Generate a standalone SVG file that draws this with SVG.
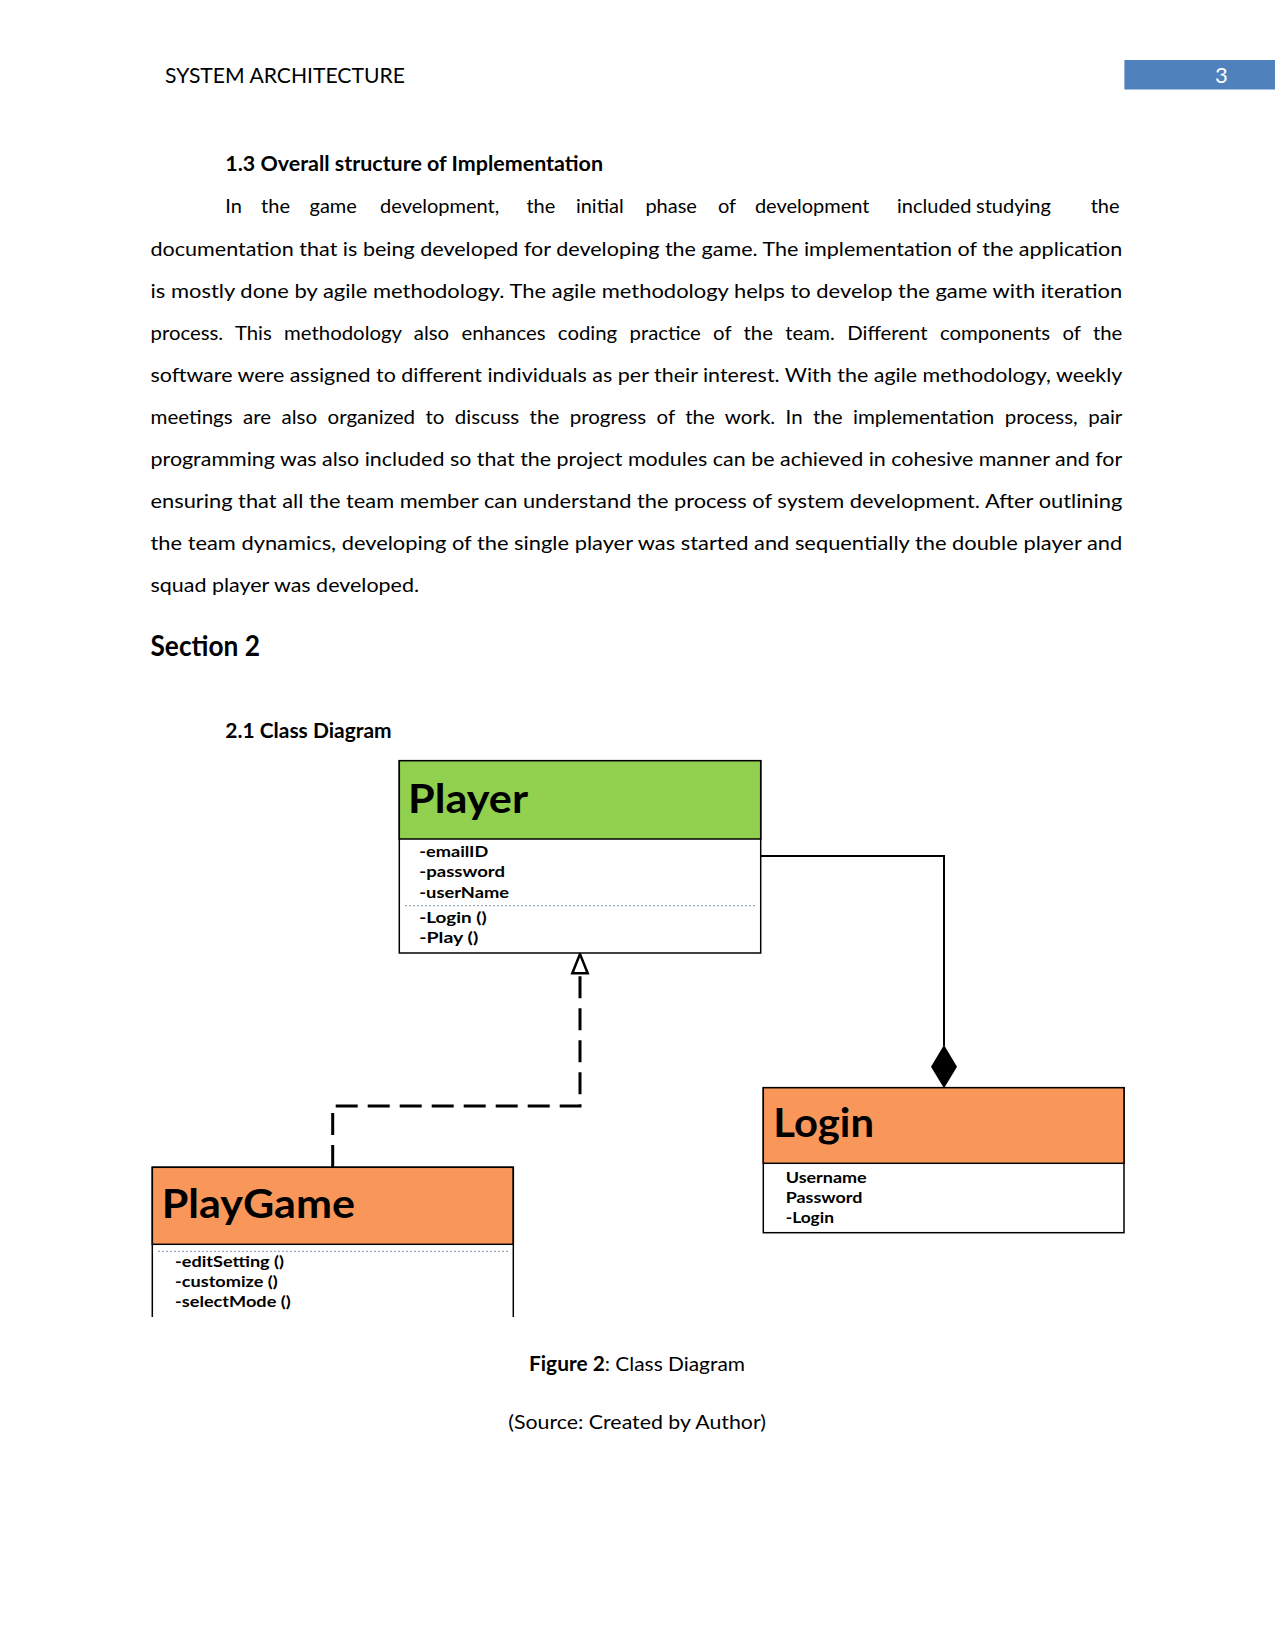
<svg xmlns="http://www.w3.org/2000/svg" width="1275" height="1651" viewBox="0 0 1275 1651">
<style>
text{font-family:Lato,"Liberation Sans",sans-serif;fill:#000}
.body{font-size:20px}
.b{font-weight:bold}
.title{font-size:40px;font-weight:bold}
.attr{font-size:16px;font-weight:bold}
.box{fill:#fff;stroke:#000;stroke-width:1.5}
.sep{stroke:#7f95a8;stroke-width:1;stroke-dasharray:2 2}
.conn{fill:none;stroke:#000}
</style>
<rect width="1275" height="1651" fill="#fff"/>
<g id="page-header">
<text x="165" y="83" font-size="22" textLength="240" lengthAdjust="spacingAndGlyphs">SYSTEM ARCHITECTURE</text>
<rect x="1124.4" y="60" width="150.6" height="29.5" fill="#4F81BD"/>
<text x="1215" y="83" font-size="22" style="fill:#fff">3</text>
</g>
<g id="body-text" class="body">
<text class="b" x="225.3" y="171" textLength="377.7" lengthAdjust="spacingAndGlyphs">1.3 Overall structure of Implementation</text>
<text y="213"><tspan x="225.3">In</tspan><tspan x="261.1">the</tspan><tspan x="309.5">game</tspan><tspan x="380.1">development,</tspan><tspan x="526.4">the</tspan><tspan x="575.9">initial</tspan><tspan x="645.4">phase</tspan><tspan x="718">of</tspan><tspan x="754.9">development</tspan><tspan x="897">included</tspan><tspan x="976">studying</tspan><tspan x="1090.7">the</tspan></text>
<text x="150.5" y="255.5" textLength="971.8" lengthAdjust="spacingAndGlyphs">documentation that is being developed for developing the game. The implementation of the application</text>
<text x="150.5" y="297.6" textLength="971.8" lengthAdjust="spacingAndGlyphs">is mostly done by agile methodology. The agile methodology helps to develop the game with iteration</text>
<text x="150.5" y="339.7" word-spacing="7" textLength="971.8" lengthAdjust="spacingAndGlyphs">process. This methodology also enhances coding practice of the team. Different components of the</text>
<text x="150.5" y="381.8" textLength="971.8" lengthAdjust="spacingAndGlyphs">software were assigned to different individuals as per their interest. With the agile methodology, weekly</text>
<text x="150.5" y="424" word-spacing="5" textLength="971.8" lengthAdjust="spacingAndGlyphs">meetings are also organized to discuss the progress of the work. In the implementation process, pair</text>
<text x="150.5" y="466" textLength="971.8" lengthAdjust="spacingAndGlyphs">programming was also included so that the project modules can be achieved in cohesive manner and for</text>
<text x="150.5" y="508" textLength="971.8" lengthAdjust="spacingAndGlyphs">ensuring that all the team member can understand the process of system development. After outlining</text>
<text x="150.5" y="550.3" textLength="971.8" lengthAdjust="spacingAndGlyphs">the team dynamics, developing of the single player was started and sequentially the double player and</text>
<text x="150.5" y="592.4" textLength="268.5" lengthAdjust="spacingAndGlyphs">squad player was developed.</text>
<text class="b" x="150.5" y="656" font-size="28" textLength="109.5" lengthAdjust="spacingAndGlyphs">Section 2</text>
<text class="b" x="225.3" y="738" textLength="166.3" lengthAdjust="spacingAndGlyphs">2.1 Class Diagram</text>
<text x="529" y="1370.5" textLength="216" lengthAdjust="spacingAndGlyphs"><tspan class="b">Figure 2</tspan>: Class Diagram</text>
<text x="508.3" y="1428.5" textLength="257.7" lengthAdjust="spacingAndGlyphs">(Source: Created by Author)</text>
</g>
<g id="connectors">
<path class="conn" d="M332.7 1167 V1106 H580 V974" stroke-width="3" stroke-dasharray="22 10"/>
<polygon points="580,954 572.3,973.3 587.7,973.3" fill="#fff" stroke="#000" stroke-width="2.5" stroke-linejoin="miter"/>
<path class="conn" d="M760.7 856 H944 V1046" stroke-width="2"/>
<polygon points="944,1045 957,1066.7 944,1088.3 931,1066.7" fill="#000"/>
</g>
<g id="node-player">
<rect class="box" x="399.3" y="760.7" width="361.4" height="192.3"/>
<rect x="399.3" y="760.7" width="361.4" height="78.3" fill="#92D050" stroke="#000" stroke-width="1.5"/>
<text class="title" x="408" y="812.7" textLength="120" lengthAdjust="spacingAndGlyphs">Player</text>
<text class="attr" x="419.3" y="857.3" textLength="69" lengthAdjust="spacingAndGlyphs">-emailID</text>
<text class="attr" x="419.3" y="877.3" textLength="85.7" lengthAdjust="spacingAndGlyphs">-password</text>
<text class="attr" x="419.3" y="897.5" textLength="89.7" lengthAdjust="spacingAndGlyphs">-userName</text>
<line class="sep" x1="405" y1="905.7" x2="755" y2="905.7"/>
<text class="attr" x="419.3" y="922.7" textLength="67.3" lengthAdjust="spacingAndGlyphs">-Login ()</text>
<text class="attr" x="419.3" y="942.7" textLength="59" lengthAdjust="spacingAndGlyphs">-Play ()</text>
</g>
<g id="node-playgame">
<rect x="152.3" y="1167.3" width="361" height="150" fill="#fff"/>
<rect x="152.3" y="1167.3" width="361" height="77" fill="#F9975B" stroke="#000" stroke-width="1.5"/>
<path d="M152.3 1317 V1167.3 H513.3 V1317" fill="none" stroke="#000" stroke-width="1.5"/>
<text class="title" x="161.7" y="1218.3" textLength="193.3" lengthAdjust="spacingAndGlyphs">PlayGame</text>
<line class="sep" x1="158" y1="1251.3" x2="508" y2="1251.3"/>
<text class="attr" x="175" y="1266.7" textLength="109" lengthAdjust="spacingAndGlyphs">-editSetting ()</text>
<text class="attr" x="175" y="1286.7" textLength="102.7" lengthAdjust="spacingAndGlyphs">-customize ()</text>
<text class="attr" x="175" y="1306.7" textLength="115.7" lengthAdjust="spacingAndGlyphs">-selectMode ()</text>
</g>
<g id="node-login">
<rect class="box" x="763.3" y="1087.7" width="360.7" height="145"/>
<rect x="763.3" y="1087.7" width="360.7" height="75.6" fill="#F9975B" stroke="#000" stroke-width="1.5"/>
<text class="title" x="773.3" y="1136.7" textLength="100.7" lengthAdjust="spacingAndGlyphs">Login</text>
<text class="attr" x="785.7" y="1183.3" textLength="81" lengthAdjust="spacingAndGlyphs">Username</text>
<text class="attr" x="785.7" y="1203.3" textLength="76.7" lengthAdjust="spacingAndGlyphs">Password</text>
<text class="attr" x="785.7" y="1223.3" textLength="48.3" lengthAdjust="spacingAndGlyphs">-Login</text>
</g>
</svg>
